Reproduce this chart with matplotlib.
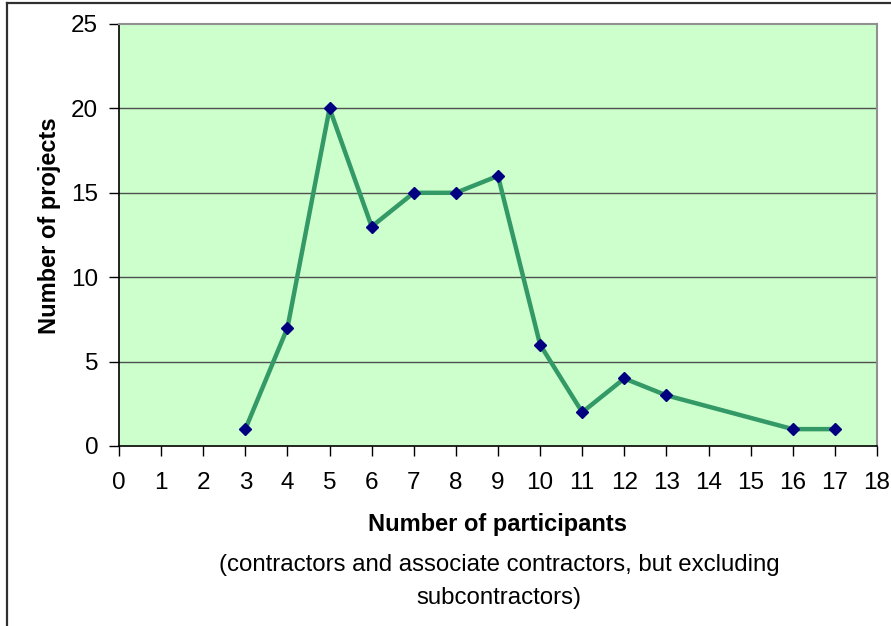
import matplotlib
matplotlib.use("Agg")
import matplotlib.pyplot as plt
from matplotlib.lines import Line2D

participants = [3, 4, 5, 6, 7, 8, 9, 10, 11, 12, 13, 16, 17]
projects = [1, 7, 20, 13, 15, 15, 16, 6, 2, 4, 3, 1, 1]
x_ticks = list(range(0, 19))
y_ticks = [0, 5, 10, 15, 20, 25]
x_title = "Number of participants"
x_subtitle_1 = "(contractors and associate contractors, but excluding"
x_subtitle_2 = "subcontractors)"
y_title = "Number of projects"

W, H = 891, 626
plt.rcParams['font.family'] = ['Liberation Sans', 'DejaVu Sans']
fig = plt.figure(figsize=(W / 100, H / 100), dpi=100)
fig.patch.set_facecolor('white')

def fx(px):
    return px / W

def fy(py):
    return 1 - py / H

ax = fig.add_axes([fx(119), fy(446), fx(877) - fx(119), fy(24) - fy(446)])
ax.set_facecolor('#CCFFCC')
ax.set_xlim(0, 18)
ax.set_ylim(0, 25)
ax.set_xticks(x_ticks)
ax.set_yticks(y_ticks)
ax.tick_params(axis='both', direction='out', length=7, width=1, color='black',
               labelsize=17.5)
ax.tick_params(axis='x', pad=12)
ax.tick_params(axis='y', pad=8)
for yv in y_ticks[1:-1]:
    ax.axhline(yv, color='#505050', lw=1, zorder=1)
for s in ['left', 'bottom']:
    ax.spines[s].set_color('black')
    ax.spines[s].set_linewidth(1.2)
for s in ['top', 'right']:
    ax.spines[s].set_color('#909090')
    ax.spines[s].set_linewidth(1.5)

ax.plot(participants, projects, color='#339966', lw=3.2, zorder=3,
        marker='D', markersize=5.8, markerfacecolor='#000080',
        markeredgecolor='#000080', clip_on=False)

fig.text(fx(50), fy(226), y_title, rotation=90, ha='center', va='center',
         fontsize=17, fontweight='bold')
fig.text(fx(498), fy(525), x_title, ha='center', va='center',
         fontsize=17, fontweight='bold')
fig.text(fx(499), fy(565), x_subtitle_1, ha='center', va='center',
         fontsize=17.3)
fig.text(fx(499), fy(598), x_subtitle_2, ha='center', va='center',
         fontsize=17.3)

# outer frame (left and top edges visible)
fig.add_artist(Line2D([fx(7), fx(7)], [fy(3), 0], transform=fig.transFigure,
                      color='#303030', lw=1.6))
fig.add_artist(Line2D([fx(7), 1], [fy(3), fy(3)], transform=fig.transFigure,
                      color='#303030', lw=1.6))

fig.savefig('out.png', dpi=100)
